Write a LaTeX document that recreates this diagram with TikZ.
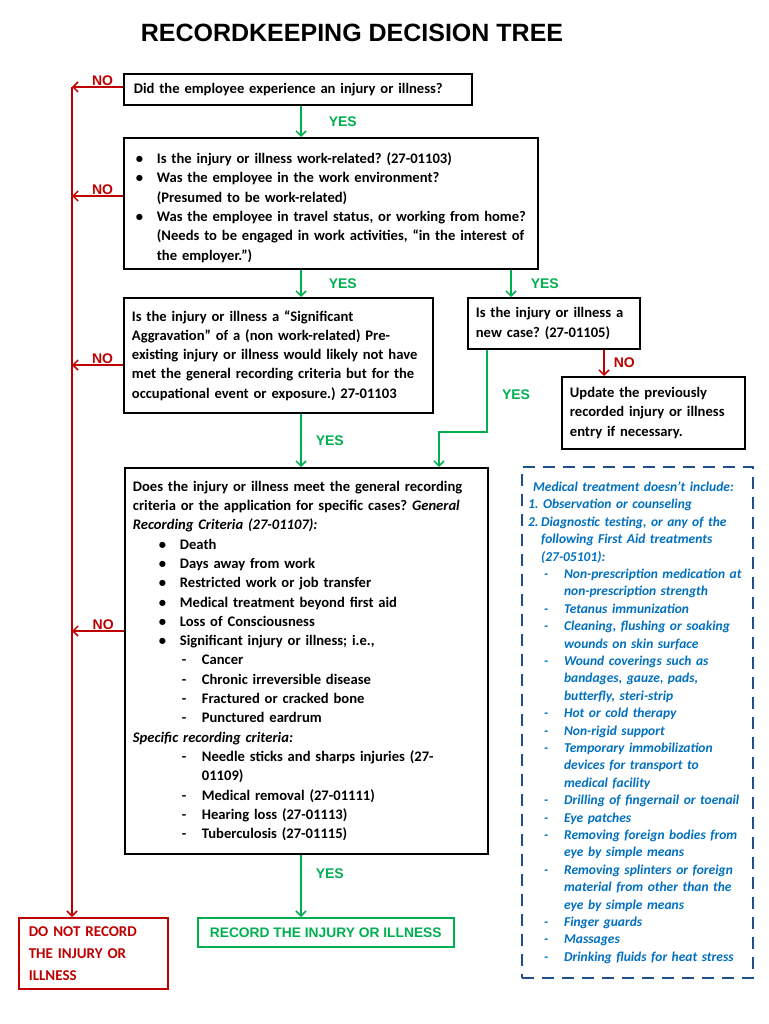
\documentclass[tikz,border=0pt]{standalone}
\usepackage{fontspec}
\setmainfont{Carlito}
\newfontfamily\arialfont{Liberation Sans}
\usetikzlibrary{arrows.meta}
\setlength{\parindent}{0pt}
\frenchspacing

\definecolor{nored}{RGB}{192,0,0}
\definecolor{yesgreen}{RGB}{0,176,80}
\definecolor{noteblue}{RGB}{0,112,192}
\definecolor{dashblue}{RGB}{31,78,140}

\newcommand\mitem[3]{\par\noindent\hangindent=#2\hangafter=1\makebox[#2][l]{\hspace*{#1}#3}\ignorespaces}
\newcommand\bulA{\mitem{4pt}{25pt}{\textbullet}}
\newcommand\bulB{\mitem{26pt}{47pt}{\textbullet}}
\newcommand\dshB{\mitem{49pt}{69pt}{-}}
\newcommand\dshN{\mitem{16pt}{36pt}{-}}

\tikzset{
  qbox/.style={draw, line width=1.8pt, anchor=north west, align=left, inner xsep=8pt, inner ysep=0pt,
    font=\bfseries\fontsize{14.6}{19.3}\selectfont},
  yesline/.style={yesgreen, line width=1.5pt, -{Straight Barb[length=5pt,width=10pt]}},
  noline/.style={nored, line width=1.5pt, -{Straight Barb[length=5pt,width=10pt]}},
  yeslabel/.style={text=yesgreen, inner sep=1pt, font=\arialfont\bfseries\fontsize{14}{14}\selectfont},
  nolabel/.style={text=nored, inner sep=1pt, font=\arialfont\bfseries\fontsize{14}{14}\selectfont},
}

\begin{document}
\begin{tikzpicture}[x=1pt,y=-1pt]
  \useasboundingbox[fill=white] (0,0) rectangle (768,1024);

  \node[font=\arialfont\bfseries\fontsize{25}{25}\selectfont] (title) at (352,33) {RECORDKEEPING DECISION TREE};

  \node[qbox, text width=332pt, minimum height=31pt] (q1) at (123,73)
    {\hspace*{2pt}Did the employee experience an injury or illness?};
  \node[qbox, text width=398pt, minimum height=131pt] (q2) at (123,137)
    {\bulA Is the injury or illness work-related? (27-01103)
     \bulA Was the employee in the work environment?\newline(Presumed to be work-related)
     \bulA Was the employee in travel status, or working from home?\newline(Needs to be engaged in work activities, “in the interest of\newline the employer.”)\par};
  \node[qbox, text width=293pt, minimum height=115pt] (q3) at (123,297)
    {Is the injury or illness a “Significant\\Aggravation” of a (non work-related) Pre-\\existing injury or illness would likely not have\\met the general recording criteria but for the\\occupational event or exposure.) 27-01103};
  \node[qbox, text width=156pt, minimum height=51pt] (qnew) at (467,297)
    {Is the injury or illness a\\new case? (27-01105)};
  \node[qbox, text width=167pt, minimum height=72pt] (upd) at (561,376)
    {Update the previously\\recorded injury or illness\\entry if necessary.};
  \node[qbox, text width=347pt, minimum height=386pt] (q4) at (124,467)
    {Does the injury or illness meet the general recording\\criteria or the application for specific cases? \textit{General}\\\textit{Recording Criteria (27-01107):}
     \bulB Death
     \bulB Days away from work
     \bulB Restricted work or job transfer
     \bulB Medical treatment beyond first aid
     \bulB Loss of Consciousness
     \bulB Significant injury or illness; i.e.,
     \dshB Cancer
     \dshB Chronic irreversible disease
     \dshB Fractured or cracked bone
     \dshB Punctured eardrum
     \par\textit{Specific recording criteria:}
     \dshB Needle sticks and sharps injuries (27-\newline 01109)
     \dshB Medical removal (27-01111)
     \dshB Hearing loss (27-01113)
     \dshB Tuberculosis (27-01115)\par};

  \node[draw=dashblue, line width=2.2pt, dash pattern=on 12pt off 8pt, anchor=north west, align=left,
    text width=219pt, inner xsep=6pt, inner ysep=0pt, minimum height=511pt, text=noteblue,
    font=\bfseries\itshape\fontsize{13.5}{17.4}\selectfont] (note) at (521,466)
    {\hspace*{5pt}Medical treatment doesn’t include:\par
     1. Observation or counseling
     \mitem{0pt}{13pt}{2.}Diagnostic testing, or any of the\newline following First Aid treatments\newline(27-05101):
     \dshN Non-prescription medication at\newline non-prescription strength
     \dshN Tetanus immunization
     \dshN Cleaning, flushing or soaking\newline wounds on skin surface
     \dshN Wound coverings such as\newline bandages, gauze, pads,\newline butterfly, steri-strip
     \dshN Hot or cold therapy
     \dshN Non-rigid support
     \dshN Temporary immobilization\newline devices for transport to\newline medical facility
     \dshN Drilling of fingernail or toenail
     \dshN Eye patches
     \dshN Removing foreign bodies from\newline eye by simple means
     \dshN Removing splinters or foreign\newline material from other than the\newline eye by simple means
     \dshN Finger guards
     \dshN Massages
     \dshN Drinking fluids for heat stress\par};

  \node[draw=nored, line width=1.5pt, anchor=north west, align=left, text width=129pt, inner xsep=10pt,
    inner ysep=0pt, minimum height=71pt, text=nored, font=\bfseries\fontsize{15}{22}\selectfont] (dnr) at (18,917)
    {DO NOT RECORD\\THE INJURY OR\\ILLNESS};
  \node[draw=yesgreen, line width=1.5pt, anchor=north west, minimum width=256pt, minimum height=29pt,
    text=yesgreen, font=\arialfont\bfseries\fontsize{13.8}{14}\selectfont] (rec) at (197,917)
    {RECORD THE INJURY OR ILLNESS};

  \coordinate (colA) at (301,0);
  \coordinate (colB) at (511,0);
  \coordinate (colC) at (487,0);
  \coordinate (colD) at (604,0);
  \coordinate (kink) at (439,432);
  \coordinate (n1) at (72,87);
  \coordinate (n2) at (72,196);
  \coordinate (n3) at (72,365);
  \coordinate (n4) at (72,631);

  \draw[yesline] (q1.south -| colA) -- node[yeslabel, right, xshift=26pt] {YES} (q2.north -| colA);
  \draw[yesline] (q2.south -| colA) -- node[yeslabel, right, xshift=26pt] {YES} (q3.north -| colA);
  \draw[yesline] (q2.south -| colB) -- node[yeslabel, right, xshift=18pt] {YES} (qnew.north -| colB);
  \draw[yesline] (q3.south -| colA) -- node[yeslabel, right, xshift=13pt] {YES} (q4.north -| colA);
  \draw[yesline] (qnew.south -| colC) |- (kink) -- (q4.north -| kink);
  \node[yeslabel] (yk) at (516,395) {YES};
  \draw[yesline] (q4.south -| colA) -- node[yeslabel, right, xshift=13pt, pos=0.3] {YES} (rec.north -| colA);
  \draw[noline] (qnew.south -| colD) -- node[nolabel, right, xshift=8pt] {NO} (upd.north -| colD);

  \draw[noline] (q1.west |- n1) -- node[nolabel, above, pos=0.4] {NO} (n1);
  \draw[noline] (q2.west |- n2) -- node[nolabel, above, pos=0.4] {NO} (n2);
  \draw[noline] (q3.west |- n3) -- node[nolabel, above, pos=0.4] {NO} (n3);
  \draw[noline] (q4.west |- n4) -- node[nolabel, above, pos=0.4] {NO} (n4);
  \draw[noline] (n1) -- (n1 |- dnr.north);

\end{tikzpicture}
\end{document}
